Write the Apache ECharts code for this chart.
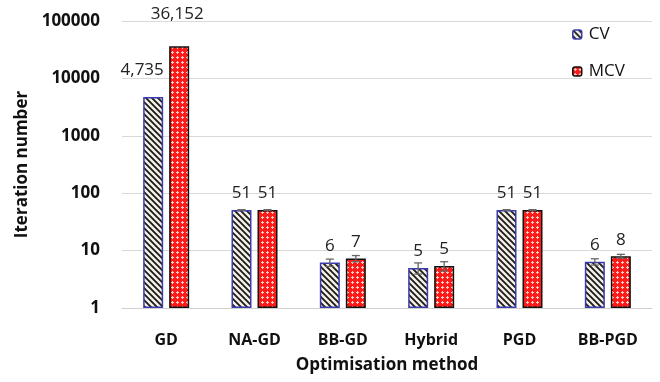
<!DOCTYPE html>
<html><head><meta charset="utf-8">
<script src="https://cdn.jsdelivr.net/npm/echarts@6/dist/echarts.min.js"></script>
<style>html,body{margin:0;padding:0;background:#fff}#c{width:660px;height:382px}</style>
</head><body><div id="c"></div>
<script>
const categories = ['GD','NA-GD','BB-GD','Hybrid','PGD','BB-PGD'];
const cvValues = [4735, 51, 6.2, 5.0, 51, 6.4];
const mcvValues = [36152, 51, 7.3, 5.4, 51, 8.0];
const cvErr = [0, 0.6, 0.9, 1.1, 0.6, 0.8];
const mcvErr = [0, 0.6, 0.9, 1.0, 0.6, 0.6];
const cvLabels = ['4,735','51','6','5','51','6'];
const mcvLabels = ['36,152','51','7','5','51','8'];
const yTicks = [1,10,100,1000,10000,100000];

function stripePattern(){
  const c = document.createElement('canvas'); c.width = 6; c.height = 6;
  const g = c.getContext('2d');
  g.fillStyle = '#f4f0e4'; g.fillRect(0,0,6,6);
  g.strokeStyle = '#1a1a1a'; g.lineWidth = 1.8;
  g.beginPath();
  g.moveTo(-1,-1); g.lineTo(7,7);
  g.moveTo(-4,2); g.lineTo(4,10);
  g.moveTo(2,-4); g.lineTo(10,4);
  g.stroke();
  return c;
}
function dotPattern(){
  const c = document.createElement('canvas'); c.width = 5; c.height = 5;
  const g = c.getContext('2d');
  g.fillStyle = '#ff1a1a'; g.fillRect(0,0,5,5);
  g.fillStyle = '#ffd0c8';
  g.fillRect(2,1,1,3); g.fillRect(1,2,3,1);
  return c;
}
const cvFill = {image: stripePattern(), repeat: 'repeat'};
const mcvFill = {image: dotPattern(), repeat: 'repeat'};

const font = 'Open Sans';
function labelData(vals, labels, offsets){
  return vals.map((v,i)=>({
    value: v,
    label: {show:true, position:'top', formatter: labels[i],
      offset: offsets[i] || [0,-3]}
  }));
}
const cvOffsets = [[-11,-13]];
const mcvOffsets = [[-2,-19]];

function errSeries(vals, errs, dx){
  return {
    type:'custom', z: 10,
    data: vals.map((v,i)=>[i, v, errs[i]]),
    renderItem: function(params, api){
      const i = api.value(0), v = api.value(1), e = api.value(2);
      if (!e) return;
      const top = api.coord([i, v + e]);
      const bot = api.coord([i, Math.max(v - e, 1)]);
      const x = top[0] + dx;
      const st = {stroke:'#666', lineWidth:1.3};
      return {type:'group', children:[
        {type:'line', shape:{x1:x, y1:top[1], x2:x, y2:bot[1]}, style:st},
        {type:'line', shape:{x1:x-4, y1:top[1], x2:x+4, y2:top[1]}, style:st},
        {type:'line', shape:{x1:x-4, y1:bot[1], x2:x+4, y2:bot[1]}, style:st}
      ]};
    }
  };
}

const chart = echarts.init(document.getElementById('c'));
chart.setOption({
  animation:false,
  backgroundColor:'#fff',
  textStyle:{fontFamily:font},
  grid:{left:122, right:8, top:21, bottom:74},
  legend:{
    orient:'vertical', left:567, top:21, itemGap:20,
    itemWidth:9, itemHeight:9,
    textStyle:{fontSize:17, color:'#111', fontFamily:font, padding:[0,0,0,2]},
    data:[{name:'CV', itemStyle:{color:cvFill, borderColor:'#3b3bb0', borderWidth:1.5}},
          {name:'MCV', itemStyle:{color:mcvFill, borderColor:'#111', borderWidth:1.5}}]
  },
  xAxis:{
    type:'category', data:categories,
    axisTick:{show:false},
    axisLine:{lineStyle:{color:'#d0d0d0', width:1}},
    axisLabel:{fontSize:16, fontWeight:'bold', color:'#111', margin:24, fontFamily:font},
    name:'Optimisation method', nameLocation:'middle', nameGap:49,
    nameTextStyle:{fontSize:17, fontWeight:'bold', color:'#111', fontFamily:font}
  },
  yAxis:{
    type:'log', logBase:10, min:1, max:100000,
    axisLine:{show:false}, axisTick:{show:false},
    splitLine:{lineStyle:{color:'#d9d9d9'}},
    axisLabel:{fontSize:17, fontWeight:'bold', color:'#111', margin:22, fontFamily:font,
      formatter: v => yTicks.includes(Math.round(v)) ? String(Math.round(v)) : ''},
    name:'Iteration number', nameLocation:'middle', nameGap:87, nameRotate:90,
    nameTextStyle:{fontSize:17, fontWeight:'bold', color:'#111', fontFamily:font}
  },
  series:[
    {name:'CV', type:'bar', barWidth:20, barGap:'30%',
     itemStyle:{color:cvFill, borderColor:'#3b3bb0', borderWidth:1.5},
     label:{show:true, position:'top', fontSize:17, color:'#222', fontFamily:font},
     data: labelData(cvValues, cvLabels, cvOffsets)},
    {name:'MCV', type:'bar', barWidth:20, barGap:'30%',
     itemStyle:{color:mcvFill, borderColor:'#111', borderWidth:1.5},
     label:{show:true, position:'top', fontSize:17, color:'#222', fontFamily:font},
     data: labelData(mcvValues, mcvLabels, mcvOffsets)},
    errSeries(cvValues, cvErr, -13),
    errSeries(mcvValues, mcvErr, 13)
  ]
});
</script></body></html>
